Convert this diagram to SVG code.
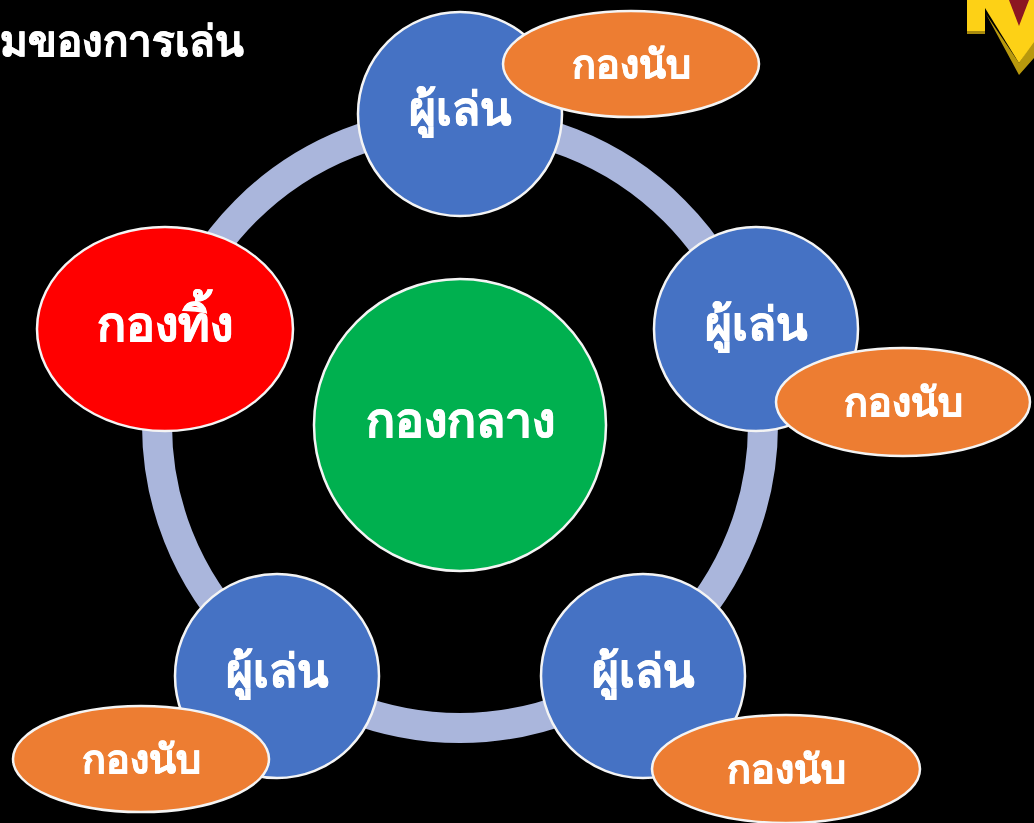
<svg xmlns="http://www.w3.org/2000/svg" width="1034" height="823" viewBox="0 0 1034 823">
<defs><filter id="soft" x="0" y="0" width="100%" height="100%" filterUnits="userSpaceOnUse" primitiveUnits="userSpaceOnUse"><feGaussianBlur stdDeviation="0.5"/></filter></defs>
<style>
text{font-family:"Noto Sans","Open Sans","DejaVu Sans",sans-serif;font-weight:700;fill:#fff;stroke:#fff;stroke-width:.7;text-anchor:middle}
.n{stroke:#f4f4f4;stroke-width:2.5}
.p{fill:#4472c4}
.o{fill:#ed7d31}
.l{font-size:48px}
.b{font-size:46px}
.s{font-size:39.5px}
</style>
<rect width="1034" height="823" fill="#000"/>
<g filter="url(#soft)">
<g id="connectors"><circle cx="460" cy="425" r="303" fill="none" stroke="#aab6dc" stroke-width="30"/></g>
<g id="logo">
<polygon points="967,31 985,31 985,34 967,34" fill="#a98a10"/>
<polygon points="986,14 1019,63 1034,40 1034,58 1019,75" fill="#b89810"/>
<polygon points="967,0 985,0 985,31 967,31" fill="#fdd116"/>
<polygon points="985,0 1034,0 1034,42 1019,63 985,8" fill="#fdd116"/>
<polygon points="1009,0 1029,0 1019,26" fill="#8c1220"/>
</g>
<text id="title" x="244" y="56" style="text-anchor:end;font-size:42px">มของการเล่น</text>
<g id="center"><circle class="n" cx="460" cy="425" r="146" fill="#00b050"/><text class="l" x="460" y="437">กองกลาง</text></g>
<g id="discard"><ellipse class="n" cx="165" cy="329" rx="128" ry="102" fill="#f00"/><text class="l" x="165" y="341">กองทิ้ง</text></g>
<g id="player1"><circle class="n p" cx="460" cy="114" r="102"/><text class="b" x="460" y="125">ผู้เล่น</text></g>
<g id="stock1"><ellipse class="n o" cx="631" cy="64" rx="128" ry="53"/><text class="s" x="631" y="78">กองนับ</text></g>
<g id="player2"><circle class="n p" cx="756" cy="329" r="102"/><text class="b" x="756" y="340">ผู้เล่น</text></g>
<g id="stock2"><ellipse class="n o" cx="903" cy="402" rx="127" ry="54"/><text class="s" x="903" y="416">กองนับ</text></g>
<g id="player3"><circle class="n p" cx="643" cy="676" r="102"/><text class="b" x="643" y="687">ผู้เล่น</text></g>
<g id="stock3"><ellipse class="n o" cx="786" cy="769" rx="134" ry="54"/><text class="s" x="786" y="783">กองนับ</text></g>
<g id="player4"><circle class="n p" cx="277" cy="676" r="102"/><text class="b" x="277" y="687">ผู้เล่น</text></g>
<g id="stock4"><ellipse class="n o" cx="141" cy="759" rx="128" ry="53"/><text class="s" x="141" y="773">กองนับ</text></g>
</g>
</svg>
